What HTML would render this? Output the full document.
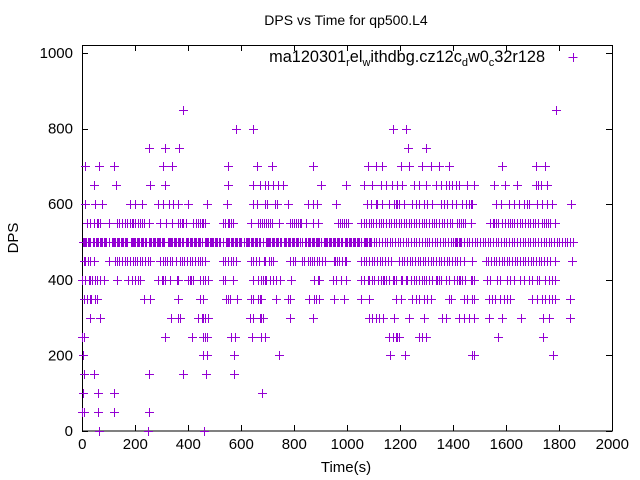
<!DOCTYPE html>
<html><head><meta charset="utf-8"><style>
body{margin:0;background:#fff}
svg{display:block;font-family:"Liberation Sans",sans-serif}
</style></head><body>
<svg id="chart" width="640" height="480" xmlns="http://www.w3.org/2000/svg">
<rect width="640" height="480" fill="#fff"/>
<text x="346" y="25" text-anchor="middle" font-size="14">DPS vs Time for qp500.L4</text>
<text x="346" y="472" text-anchor="middle" font-size="15">Time(s)</text>
<text x="18" y="238" text-anchor="middle" font-size="15" transform="rotate(-90 18 238)">DPS</text>
<g id="axes"></g>
<g id="marks"></g>
<g>
<text x="545" y="62" text-anchor="end" font-size="16.3">ma120301<tspan font-size="11" dy="4">r</tspan><tspan dy="-4">el</tspan><tspan font-size="11" dy="4">w</tspan><tspan dy="-4">ithdbg.cz12c</tspan><tspan font-size="11" dy="4">d</tspan><tspan dy="-4">w0</tspan><tspan font-size="11" dy="4">c</tspan><tspan dy="-4">32r128</tspan></text>
<path d="M568.5 57.5H577.5M573.5 53V62" stroke="#9400d3" stroke-width="1"/>
</g>
</svg>
<script>
const xTicks=[0,200,400,600,800,1000,1200,1400,1600,1800,2000];
const yTicks=[0,200,400,600,800,1000];
const levels=[0,50,100,150,200,250,300,350,400,450,500,550,600,650,700,750,800,850];
const times0=[64,249,459];
const times50=[0,5,61,120,253];
const times100=[3,61,120,679];
const times150=[5,45,253,381,466,571];
const times200=[3,456,469,571,742,1162,1216,1469,1478,1778];
const times250=[0,5,313,415,456,462,469,563,575,640,676,688,1158,1171,1183,1189,1196,1271,1283,1296,1569,1737];
const times300=[30,65,333,362,368,437,450,456,462,475,632,644,669,676,682,782,870,1083,1095,1108,1120,1133,1177,1231,1290,1358,1371,1421,1440,1459,1478,1534,1582,1657,1737,1762,1841];
const times350=[5,18,28,33,49,55,231,256,362,444,456,544,550,556,582,638,644,663,669,676,732,776,782,857,876,882,895,951,989,1051,1083,1183,1202,1246,1258,1271,1290,1302,1315,1384,1390,1440,1453,1471,1478,1534,1547,1559,1578,1590,1603,1615,1697,1716,1734,1747,1760,1772,1785,1841];
const times400=[0,11,24,30,36,49,55,68,80,130,174,187,199,212,218,287,300,306,312,331,356,362,400,406,412,418,444,456,462,475,531,538,569,644,663,676,682,688,694,707,719,732,745,788,876,889,895,945,958,976,995,1051,1064,1077,1083,1095,1102,1114,1127,1133,1139,1145,1158,1171,1177,1183,1202,1208,1221,1227,1239,1252,1258,1271,1283,1290,1296,1308,1321,1333,1340,1346,1352,1371,1384,1402,1415,1421,1427,1434,1446,1465,1471,1478,1528,1540,1565,1578,1603,1615,1628,1653,1665,1684,1697,1716,1722,1747,1760,1772,1785];
const times450=[5,12,20,30,43,99,124,132,140,150,160,168,180,190,198,208,218,226,238,248,255,293,303,313,320,330,340,355,368,378,385,395,405,415,425,435,445,452,462,530,540,550,560,570,580,638,645,655,665,685,690,705,712,720,785,795,803,830,835,850,860,868,875,885,895,905,914,950,952,960,970,980,990,995,1052,1062,1072,1082,1092,1102,1112,1122,1132,1142,1152,1165,1195,1205,1215,1225,1235,1245,1255,1265,1275,1285,1295,1305,1315,1325,1335,1345,1355,1365,1375,1385,1395,1405,1415,1425,1440,1470,1522,1532,1542,1552,1562,1572,1582,1592,1602,1612,1622,1632,1642,1652,1662,1672,1682,1692,1702,1712,1722,1732,1742,1752,1765,1785,1847];
const times500=[3,7,10,15,20,25,30,42,46,50,55,60,65,70,75,80,85,90,100,112,116,120,125,130,135,140,145,150,155,160,165,170,182,186,190,195,200,205,210,215,220,225,230,235,240,252,256,260,265,270,275,280,285,290,295,300,305,310,322,326,330,335,340,345,350,355,360,365,370,375,380,392,396,400,405,410,415,420,425,430,435,440,445,450,462,466,470,475,480,485,490,495,500,505,510,515,520,530,542,546,550,555,560,565,570,575,580,585,590,595,600,612,616,620,625,630,635,640,645,650,655,660,665,670,680,692,696,700,705,710,715,720,725,730,735,740,745,750,762,766,770,775,780,785,790,795,800,805,810,815,820,830,842,846,850,855,860,865,870,875,880,885,890,895,900,912,916,920,925,930,935,940,945,950,955,960,965,970,975,980,992,996,1000,1005,1010,1015,1020,1025,1030,1035,1040,1045,1050,1062,1066,1070,1075,1080,1085,1090,1100,1110,1120,1130,1142,1150,1160,1170,1180,1190,1200,1212,1220,1230,1240,1250,1260,1270,1280,1292,1300,1310,1320,1330,1340,1350,1362,1370,1380,1390,1400,1405,1410,1415,1420,1425,1430,1442,1450,1460,1470,1480,1490,1500,1512,1520,1530,1540,1550,1560,1570,1580,1592,1600,1610,1620,1630,1640,1650,1662,1670,1680,1690,1700,1710,1720,1730,1742,1750,1760,1770,1780,1790,1800,1812,1820,1830,1840,1850];
const times550=[18,30,43,55,61,68,99,130,140,150,160,170,180,187,193,200,210,218,225,232,250,293,316,337,362,370,378,381,393,418,430,437,444,452,456,462,532,540,548,555,563,570,638,663,670,678,685,693,700,708,715,744,783,790,798,805,813,820,826,845,869,888,964,972,980,988,996,1003,1052,1062,1070,1080,1090,1098,1108,1118,1128,1136,1146,1156,1166,1175,1184,1194,1204,1214,1222,1232,1242,1252,1260,1270,1280,1290,1298,1308,1318,1328,1336,1346,1356,1366,1376,1386,1396,1415,1422,1430,1437,1445,1465,1540,1548,1555,1563,1570,1583,1595,1605,1615,1622,1630,1640,1650,1660,1670,1680,1690,1700,1710,1720,1735,1742,1750,1757,1765,1785];
const times600=[11,49,75,180,199,226,286,305,327,342,361,399,470,545,643,658,688,696,726,733,778,850,869,884,959,1075,1090,1109,1113,1132,1158,1177,1184,1188,1196,1214,1245,1260,1271,1290,1301,1320,1354,1365,1376,1395,1410,1433,1448,1459,1466,1470,1560,1579,1609,1628,1647,1666,1677,1684,1715,1733,1752,1771,1846];
const times650=[45,128,256,312,549,643,669,688,699,718,737,756,902,996,1064,1094,1128,1147,1169,1188,1207,1252,1271,1297,1335,1354,1372,1384,1395,1410,1421,1451,1478,1553,1594,1639,1711,1718,1730,1752];
const times700=[11,64,120,305,338,549,658,714,869,1079,1109,1132,1203,1233,1282,1316,1346,1384,1583,1711,1745];
const times750=[252,312,365,1229,1297];
const times800=[580,646,1173,1222];
const times850=[380,1786];
const seriesTimes=[times0,times50,times100,times150,times200,times250,times300,times350,times400,times450,times500,times550,times600,times650,times700,times750,times800,times850];

const X0=82.3,XS=0.265,Y0=431,YS=0.378;
function xPos(t){return X0+t*XS;}
function yPos(v){return Y0-v*YS;}
const NS="http://www.w3.org/2000/svg";
const axes=document.getElementById('axes');
const marks=document.getElementById('marks');
const frame=document.createElementNS(NS,'rect');
frame.setAttribute('x',82.5);frame.setAttribute('y',45.5);frame.setAttribute('width',530);frame.setAttribute('height',385.5);
frame.setAttribute('fill','none');frame.setAttribute('stroke','#000');


axes.appendChild(frame);
xTicks.forEach(function(t){
  const x=Math.round(xPos(t))+0.5;
  const p=document.createElementNS(NS,'path');
  p.setAttribute('d','M'+x+' 431V425M'+x+' 45V51');p.setAttribute('stroke','#000');
  
  
  axes.appendChild(p);
  const tx=document.createElementNS(NS,'text');
  tx.setAttribute('x',xPos(t));tx.setAttribute('y',449);tx.setAttribute('text-anchor','middle');tx.setAttribute('font-size','15');
  tx.textContent=t;
  
  
  axes.appendChild(tx);
});
yTicks.forEach(function(v){
  const y=Math.round(yPos(v))+0.5;
  const p=document.createElementNS(NS,'path');
  p.setAttribute('d','M82 '+y+'H88M612 '+y+'H606');p.setAttribute('stroke','#000');
  
  
  axes.appendChild(p);
  const tx=document.createElementNS(NS,'text');
  tx.setAttribute('x',73);tx.setAttribute('y',yPos(v)+5);tx.setAttribute('text-anchor','end');tx.setAttribute('font-size','15');
  tx.textContent=v;
  
  
  axes.appendChild(tx);
});
let d='';
levels.forEach(function(v,i){
  const y=Math.round(yPos(v))+0.5;
  seriesTimes[i].forEach(function(t){
    const x=Math.round(xPos(t))+0.5;
    d+='M'+(x-4.5)+' '+y+'h9M'+x+' '+(y-4.5)+'v9';
  });
});
const pts=document.createElementNS(NS,'path');
pts.setAttribute('d',d);pts.setAttribute('stroke','#9400d3');pts.setAttribute('stroke-width','1');pts.setAttribute('fill','none');
pts.setAttribute('shape-rendering','crispEdges');


marks.appendChild(pts);
</script>
</body></html>
